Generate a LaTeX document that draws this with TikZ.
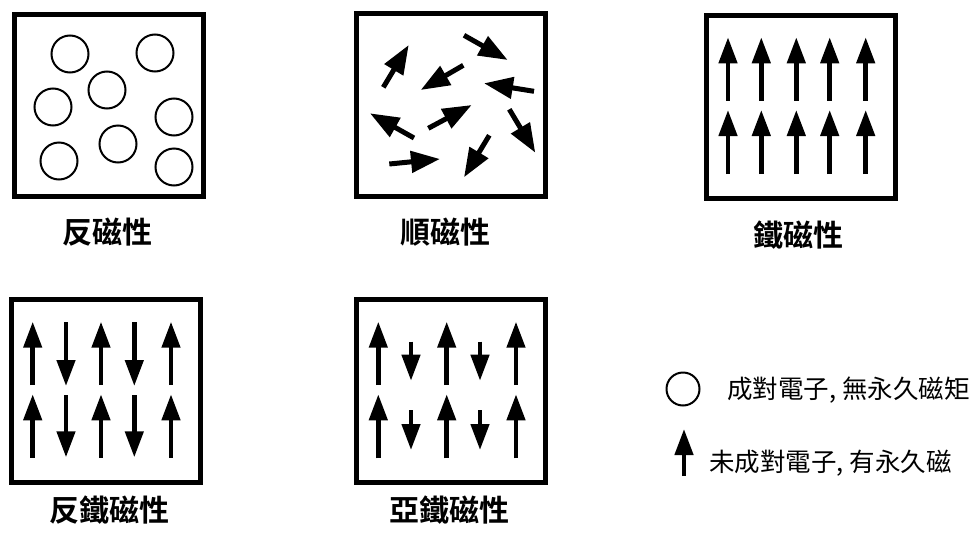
\documentclass[tikz,border=0pt]{standalone}
\usepackage{fontspec}
\newfontfamily\cjk{Noto Sans CJK TC}
\newfontfamily\cjkb{Noto Sans CJK TC Bold}
\usetikzlibrary{arrows.meta}
\tikzset{
  frame/.style={draw=black, line width=5pt},
  pair/.style={draw=black, line width=2pt},
  spin/.style={line width=4.5pt, -{Triangle[length=26pt,width=18pt]}},
  spinp/.style={line width=5pt, -{Triangle[length=29pt,width=21pt]}},
  lab/.style={font=\cjkb\fontsize{30}{32}\selectfont, inner sep=0pt},
  leg/.style={font=\cjk\fontsize{25.5}{27}\selectfont, inner sep=0pt, anchor=west},
}
\begin{document}
\begin{tikzpicture}[x=1pt,y=-1pt]
\useasboundingbox (0,0) rectangle (978,536);
% Box 1: diamagnetism
\draw[frame] (14.5,14.5) rectangle (203.5,196.5);
\foreach \p/\q in {70/54,155/53,107/90,53/107,174/117,118/144,59/161,174/167}
  \draw[pair] (\p,\q) circle (18.5);
\node[lab] (l1) at (107,232) {反磁性};
% Box 2: paramagnetism
\draw[frame] (356.5,13.5) rectangle (545.5,196.5);
\coordinate (a1) at (383.3,87.3); \coordinate (b1) at (408.7,45);
\coordinate (a2) at (464,35.3); \coordinate (b2) at (507.7,60);
\coordinate (a3) at (463.3,65.3); \coordinate (b3) at (420.7,90);
\coordinate (a4) at (534,91.3); \coordinate (b4) at (484,83.3);
\coordinate (a5) at (414,138); \coordinate (b5) at (370,113.3);
\coordinate (a6) at (428.3,128.3); \coordinate (b6) at (471.7,105);
\coordinate (a7) at (509.3,109.3); \coordinate (b7) at (535.3,152.7);
\coordinate (a8) at (389.3,164); \coordinate (b8) at (440,159);
\coordinate (a9) at (489.3,135.3); \coordinate (b9) at (464,177.3);
\foreach \i in {1,...,9} \draw[spinp] (a\i) -- (b\i);
\node[lab] (l2) at (445,232) {順磁性};
% Box 3: ferromagnetism
\draw[frame] (706.5,15.5) rectangle (895.5,198.5);
\foreach \x in {728,761.3,796.3,829.7,865.7} {
  \draw[spin] (\x,100.7) -- (\x,37.3);
  \draw[spin] (\x,174) -- (\x,110);
}
\node[lab] (l3) at (798,235) {鐵磁性};
% Box 4: antiferromagnetism
\draw[frame] (11.5,299.5) rectangle (200.5,482.5);
\foreach \x in {32.7,101,171} {
  \draw[spin] (\x,385) -- (\x,321.7);
  \draw[spin] (\x,457.7) -- (\x,394.3);
}
\foreach \x in {66,134.3} {
  \draw[spin] (\x,322.3) -- (\x,386);
  \draw[spin] (\x,395) -- (\x,457.3);
}
\node[lab] (l4) at (109,510) {反鐵磁性};
% Box 5: ferrimagnetism
\draw[frame] (356.5,299.5) rectangle (545.5,482.5);
\foreach \x in {378.3,446.7,516} {
  \draw[spin] (\x,385) -- (\x,321.7);
  \draw[spin] (\x,458.3) -- (\x,394.3);
}
\foreach \x in {411,480} {
  \draw[spin] (\x,341.7) -- (\x,380.7);
  \draw[spin] (\x,410) -- (\x,450);
}
\node[lab] (l5) at (449,510) {亞鐵磁性};
% Legend
\draw[pair] (683,389) circle (16.5);
\node[leg] (t1) at (727,390) {成對電子, 無永久磁矩};
\draw[spin] (684,476) -- (684,429);
\node[leg] (t2) at (709,463) {未成對電子, 有永久磁};
\end{tikzpicture}
\end{document}
